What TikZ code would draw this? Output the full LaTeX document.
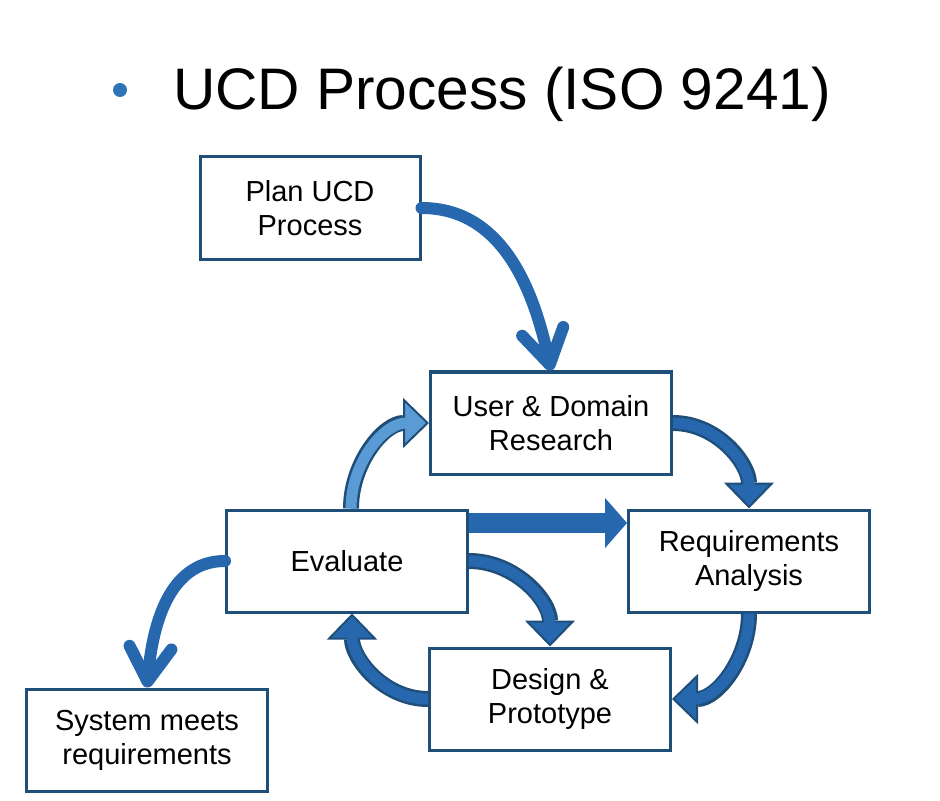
\documentclass[tikz,border=0pt]{standalone}
\usepackage{fontspec}
\setmainfont{Liberation Sans}
\usetikzlibrary{arrows.meta}

\definecolor{boxline}{HTML}{1F4E79}
\definecolor{arrowblue}{HTML}{2767AE}
\definecolor{lightarrow}{HTML}{5B9BD5}
\definecolor{bulletblue}{HTML}{2E75B6}

\tikzset{
    stage/.style={draw=boxline, line width=1.5pt, align=center,
        minimum width=120.5pt, minimum height=51pt, inner sep=0pt,
        font=\fontsize{14.5}{17}\selectfont},
    thinarrow/.style={arrowblue, line width=6pt, line cap=round,
        -{Straight Barb[length=17pt, width=21pt, line cap=round, line join=round]}},
    blockout/.style={boxline, line width=8pt,
        -{Triangle[length=13pt, width=25pt, line width=1pt, fill=#1]}},
    blockin/.style={#1, line width=5.5pt, shorten >=11.5pt},
}

\begin{document}
\begin{tikzpicture}[x=0.5pt, y=-0.5pt]
        \useasboundingbox (0,0) rectangle (940,801);

        \node[circle, fill=bulletblue, minimum size=7pt, inner sep=0pt] (dot) at (120,90) {};
        \node[anchor=base west, font=\fontsize{29.3}{35}\selectfont] (title) at (166,110) {UCD Process (ISO 9241)};

        \node[stage, minimum width=110pt, minimum height=51.5pt] (plan) at (310,208) {Plan UCD\\Process};
        \node[stage] (user) at (551,423) {User \& Domain\\Research};
        \node[stage] (req) at (749,561) {Requirements\\Analysis};
        \node[stage] (eval) at (347,561) {Evaluate};
        \node[stage] (design) at (550,699) {Design \&\\Prototype};
        \node[stage] (sys) at (147,740) {System meets\\requirements};

        % plain curved arrows
        \draw[thinarrow] (plan.east) to[out=0, in=102] (user.north);
        \draw[thinarrow] (eval.west) to[out=180, in=85] (sys.north);

        % straight arrow
        \draw[arrowblue, line width=10pt, -{Triangle[length=11pt, width=25pt, line width=0.5pt]}]
            ([yshift=19pt]eval.east) -- ([yshift=19pt]req.west);

        % outlined block arrows, outline first then fill
        \draw[blockout=arrowblue] (user.east) to[out=0, in=90] (req.north);
        \draw[blockin=arrowblue] (user.east) to[out=0, in=90] (req.north);
        \draw[blockout=arrowblue] (req.south) to[out=-90, in=0] (design.east);
        \draw[blockin=arrowblue] (req.south) to[out=-90, in=0] (design.east);
        \draw[blockout=arrowblue] (eval.east) to[out=0, in=90] (design.north);
        \draw[blockin=arrowblue] (eval.east) to[out=0, in=90] (design.north);
        \draw[blockout=arrowblue] (design.west) to[out=180, in=-90] ([xshift=2.5pt]eval.south);
        \draw[blockin=arrowblue] (design.west) to[out=180, in=-90] ([xshift=2.5pt]eval.south);
        \draw[blockout=lightarrow] ([xshift=2pt]eval.north) to[out=90, in=180] (user.west);
        \draw[blockin=lightarrow] ([xshift=2pt]eval.north) to[out=90, in=180] (user.west);
    \end{tikzpicture}
\end{document}
